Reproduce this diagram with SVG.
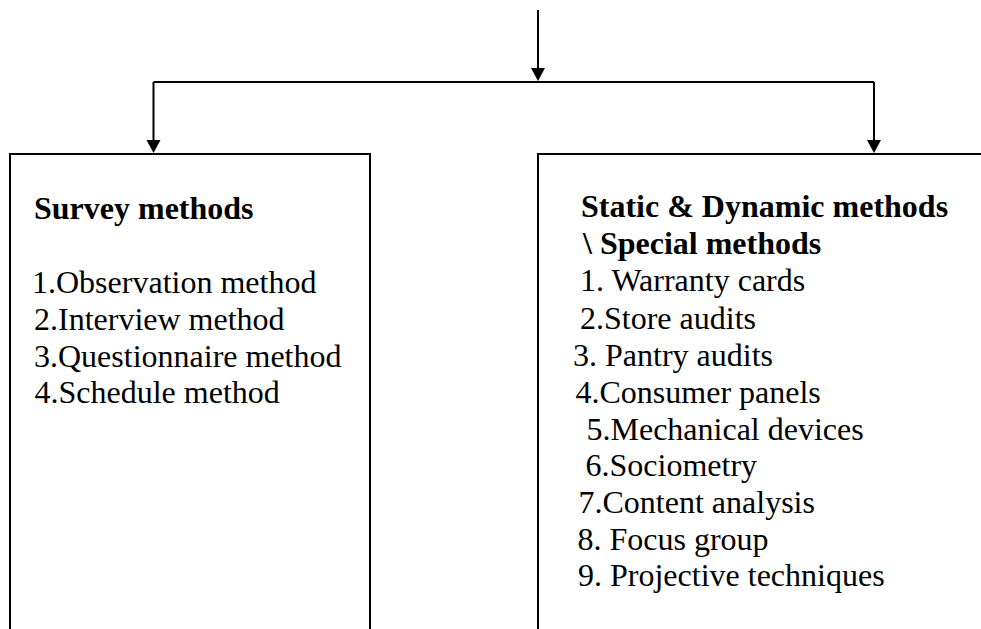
<svg xmlns="http://www.w3.org/2000/svg" width="981" height="629" viewBox="0 0 981 629">
  <defs>
    <marker id="arrow" viewBox="0 0 14 13" refX="7" refY="12" markerWidth="14" markerHeight="13" markerUnits="userSpaceOnUse" orient="auto">
      <path d="M0,0 L14,6.5 L0,13 Z" fill="#000"/>
    </marker>
    <style>
      .line { fill: none; stroke: #000; stroke-width: 2; }
      .box { fill: none; stroke: #000; stroke-width: 2; }
      .head { fill: #000; }
      .txt { font-family: "Liberation Serif", "Times New Roman", serif; font-size: 32px; fill: #000; }
      .bold { font-weight: bold; }
    </style>
  </defs>
  <rect width="981" height="629" fill="#fff"/>

  <g id="connectors">
    <path class="line" d="M538,10 V70"/>
    <polygon class="head" points="531,68 545,68 538,81"/>
    <path class="line" d="M153.5,82 H874"/>
    <path class="line" d="M153.5,82 V141"/>
    <polygon class="head" points="146.5,140 160.5,140 153.5,153"/>
    <path class="line" d="M874,82 V141"/>
    <polygon class="head" points="867,140 881,140 874,153"/>
  </g>

  <g id="survey-methods">
    <path class="box" d="M10,629 V154 H370 V629"/>
    <text class="txt bold" x="34" y="219">Survey methods</text>
    <text class="txt" x="32" y="293">1.Observation method</text>
    <text class="txt" x="34" y="330">2.Interview method</text>
    <text class="txt" x="34" y="367">3.Questionnaire method</text>
    <text class="txt" x="34.5" y="403">4.Schedule method</text>
  </g>

  <g id="special-methods">
    <path class="box" d="M538,629 V154 H981"/>
    <text class="txt bold" x="581" y="217">Static &amp; Dynamic methods</text>
    <text class="txt bold" x="583" y="254">\ Special methods</text>
    <text class="txt" x="580" y="291">1. Warranty cards</text>
    <text class="txt" x="580" y="329">2.Store audits</text>
    <text class="txt" x="573" y="366">3. Pantry audits</text>
    <text class="txt" x="575.5" y="403">4.Consumer panels</text>
    <text class="txt" x="586.5" y="440">5.Mechanical devices</text>
    <text class="txt" x="585.5" y="476">6.Sociometry</text>
    <text class="txt" x="578.5" y="513">7.Content analysis</text>
    <text class="txt" x="577.5" y="550">8. Focus group</text>
    <text class="txt" x="578" y="586">9. Projective techniques</text>
  </g>
</svg>
